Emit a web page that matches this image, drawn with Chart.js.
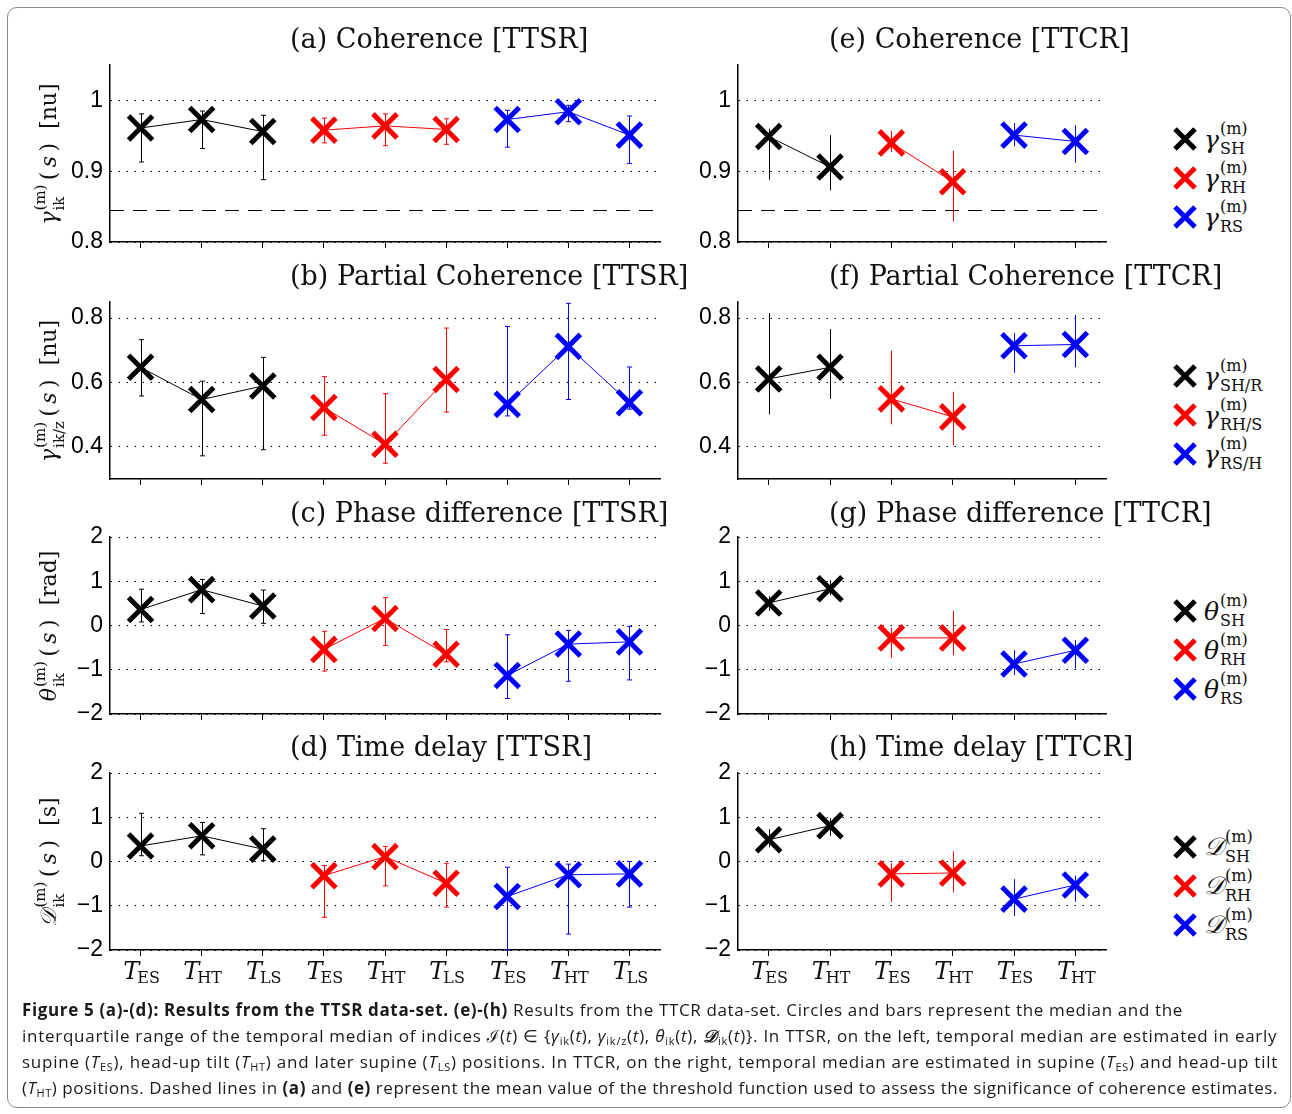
<!DOCTYPE html>
<html>
<head>
<meta charset="utf-8">
<script src="https://cdn.jsdelivr.net/npm/chart.js@4.4.0/dist/chart.umd.min.js"></script>
<style>
  body { margin: 0; background: #fff; width: 1292px; height: 1114px; position: relative; overflow: hidden; }
  #frame { position: absolute; left: 7px; top: 7px; width: 1284px; height: 1101px; border: 1.5px solid #8a8a8a; border-radius: 10px; box-sizing: border-box; }
  canvas { position: absolute; }
  .ttl { position: absolute; font: 27px "DejaVu Serif", serif; color: #111; white-space: nowrap; transform: translateY(-50%); }
  .ylab { position: absolute; font: 22px "DejaVu Serif", serif; color: #111; white-space: nowrap; transform: translate(-50%, -50%) rotate(-90deg); }
  .leg { position: absolute; left: 1171px; font: 25px "DejaVu Serif", serif; color: #111; white-space: nowrap; transform: translateY(-50%); display: flex; align-items: center; }
  .leg svg { margin-right: 5px; }
  .ss { display: inline-block; vertical-align: middle; line-height: 1; font-size: 15px; font-style: normal; margin-left: 1px; }
  .leg .ss { font-size: 16px; }
  .ss span { display: block; }
  .ss .sp { margin-bottom: 4px; }
  .sym { font-style: italic; }
  #cap { position: absolute; left: 22px; top: 997px; font: 17px "Open Sans", "Noto Sans", sans-serif; color: #1a1a1a; }
  #cap .ln { height: 26px; line-height: 26px; white-space: nowrap; }
  #cap sub { font-size: 11px; vertical-align: -3px; line-height: 0; }
</style>
</head>
<body>
<div id="frame"></div>

<script>
// categories (positions), colours and legend names
const catsTTSR = ['ES', 'HT', 'LS', 'ES', 'HT', 'LS', 'ES', 'HT', 'LS'];
const catsTTCR = ['ES', 'HT', 'ES', 'HT', 'ES', 'HT'];
const groupColors = ['#000000', '#ff0000', '#0000ff'];
const pairNames = ['SH', 'RH', 'RS'];
const partialNames = ['SH/R', 'RH/S', 'RS/H'];

// y axis ticks
const yTicksCoh = [0.8, 0.9, 1];
const yTicksPart = [0.4, 0.6, 0.8];
const yTicksRad = [-2, -1, 0, 1, 2];

// threshold (dashed lines in a and e)
const thrTTSR = 0.845;
const thrTTCR = 0.845;

// (a) coherence TTSR : median, q1, q3
const cohTTSR_med = [0.961, 0.973, 0.956, 0.958, 0.964, 0.959, 0.973, 0.984, 0.951];
const cohTTSR_q1 = [0.913, 0.932, 0.888, 0.940, 0.936, 0.938, 0.934, 0.970, 0.911];
const cohTTSR_q3 = [0.981, 0.985, 0.979, 0.975, 0.981, 0.974, 0.986, 0.993, 0.978];
// (e) coherence TTCR
const cohTTCR_med = [0.949, 0.906, 0.940, 0.885, 0.951, 0.942];
const cohTTCR_q1 = [0.888, 0.873, 0.927, 0.829, 0.935, 0.912];
const cohTTCR_q3 = [0.960, 0.951, 0.957, 0.929, 0.968, 0.965];
// (b) partial coherence TTSR
const pcohTTSR_med = [0.647, 0.547, 0.589, 0.522, 0.408, 0.609, 0.532, 0.712, 0.537];
const pcohTTSR_q1 = [0.558, 0.372, 0.391, 0.436, 0.349, 0.508, 0.496, 0.547, 0.517];
const pcohTTSR_q3 = [0.733, 0.604, 0.678, 0.618, 0.565, 0.769, 0.774, 0.846, 0.648];
// (f) partial coherence TTCR
const pcohTTCR_med = [0.611, 0.647, 0.549, 0.493, 0.714, 0.718];
const pcohTTCR_q1 = [0.501, 0.549, 0.470, 0.405, 0.630, 0.647];
const pcohTTCR_q3 = [0.815, 0.766, 0.699, 0.571, 0.754, 0.810];
// (c) phase difference TTSR
const phaseTTSR_med = [0.36, 0.81, 0.44, -0.54, 0.16, -0.65, -1.13, -0.42, -0.37];
const phaseTTSR_q1 = [0.08, 0.27, 0.05, -1.03, -0.45, -0.82, -1.65, -1.26, -1.23];
const phaseTTSR_q3 = [0.82, 1.04, 0.80, -0.13, 0.63, -0.09, -0.21, -0.11, -0.02];
// (g) phase difference TTCR
const phaseTTCR_med = [0.51, 0.83, -0.28, -0.28, -0.87, -0.56];
const phaseTTCR_q1 = [0.33, 0.68, -0.74, -0.67, -1.12, -0.97];
const phaseTTCR_q3 = [0.66, 1.02, -0.05, 0.33, -0.56, -0.33];
// (d) time delay TTSR
const delayTTSR_med = [0.35, 0.58, 0.28, -0.32, 0.11, -0.49, -0.79, -0.30, -0.28];
const delayTTSR_q1 = [0.13, 0.15, 0.02, -1.26, -0.55, -1.03, -2.00, -1.64, -1.03];
const delayTTSR_q3 = [1.09, 0.88, 0.74, -0.09, 0.34, -0.04, -0.13, -0.06, 0.00];
// (h) time delay TTCR
const delayTTCR_med = [0.49, 0.81, -0.28, -0.26, -0.85, -0.53];
const delayTTCR_q1 = [0.32, 0.58, -0.91, -0.70, -1.23, -0.91];
const delayTTCR_q3 = [0.73, 0.98, -0.04, 0.23, -0.40, -0.32];

// 오차막대 + 임계선
const errBarsPlugin = {
    id: 'errBars',
    beforeDatasetsDraw(chart, args, o) {
        const ctx = chart.ctx, ys = chart.scales.y, a = chart.chartArea;
        if (o.thr != null) {
            const ty = Math.round(ys.getPixelForValue(o.thr)) + 0.5;
            ctx.save();
            ctx.beginPath();
            ctx.setLineDash([14, 9]);
            ctx.moveTo(a.left, ty);
            ctx.lineTo(a.right, ty);
            ctx.strokeStyle = '#000';
            ctx.lineWidth = 1;
            ctx.stroke();
            ctx.restore();
        }
        chart.data.datasets.forEach((ds, d) => {
            const meta = chart.getDatasetMeta(d);
            ds.data.forEach((v, i) => {
                if (v == null) return;
                const x = Math.round(meta.data[i].x) + 0.5;
                const y1 = ys.getPixelForValue(o.lo[i]);
                const y2 = ys.getPixelForValue(o.hi[i]);
                ctx.save();
                ctx.strokeStyle = ds.borderColor;
                ctx.lineWidth = 1;
                ctx.beginPath();
                ctx.moveTo(x, y1);
                ctx.lineTo(x, y2);
                if (o.cap) {
                    ctx.moveTo(x - o.cap, y1); ctx.lineTo(x + o.cap, y1);
                    ctx.moveTo(x - o.cap, y2); ctx.lineTo(x + o.cap, y2);
                }
                ctx.stroke();
                ctx.restore();
            });
        });
    }
};

// x 라벨 (T + 아래첨자)
const xLabelPlugin = {
    id: 'tLabels',
    afterDraw(chart, args, o) {
        if (!o.show) return;
        const ctx = chart.ctx, xs = chart.scales.x, a = chart.chartArea;
        const labels = chart.data.labels;
        ctx.save();
        ctx.fillStyle = '#111';
        ctx.textBaseline = 'alphabetic';
        labels.forEach((lbl, i) => {
            const x = xs.getPixelForTick(i);
            ctx.font = 'italic 24px "DejaVu Serif"';
            const wT = ctx.measureText('T').width;
            ctx.font = '16px "DejaVu Serif"';
            const wS = ctx.measureText(lbl).width;
            const x0 = x - (wT + wS) / 2 + 2;
            ctx.font = 'italic 24px "DejaVu Serif"';
            ctx.fillText('T', x0, a.bottom + 29);
            ctx.font = '16px "DejaVu Serif"';
            ctx.fillText(lbl, x0 + wT - 2, a.bottom + 33);
        });
        ctx.restore();
    }
};

function fmt(v) {
    return v < 0 ? '\u2212' + Math.abs(v) : String(v);
}

const rowTops = [65, 302, 537, 773];
const plotH = 177;

function makePanel(col, row, cats, med, q1, q3, yTicks, yMin, yMax, thr) {
    const n = cats.length / 3;
    const cv = document.createElement('canvas');
    const left = col === 0 ? 0 : 690;
    const width = col === 0 ? 690 : 450;
    const height = 25 + plotH + 50;
    cv.width = width; cv.height = height;
    cv.style.left = left + 'px';
    cv.style.top = (rowTops[row] - 25) + 'px';
    document.body.appendChild(cv);

    const datasets = groupColors.map((c, g) => ({
        data: med.map((v, i) => Math.floor(i / n) === g ? v : null),
        borderColor: c,
        borderWidth: 1,
        pointStyle: 'crossRot',
        pointRadius: 17,
        pointBorderWidth: 5,
        pointBorderColor: c,
        pointBackgroundColor: c,
        spanGaps: false,
        tension: 0,
        clip: false
    }));

    return new Chart(cv, {
        type: 'line',
        data: { labels: cats, datasets: datasets },
        options: {
            responsive: false,
            animation: false,
            devicePixelRatio: 1,
            layout: { padding: { top: 25, right: col === 0 ? 30 : 34, left: 0, bottom: 0 } },
            plugins: {
                legend: { display: false },
                tooltip: { enabled: false },
                errBars: { lo: q1, hi: q3, cap: col === 0 ? 2.5 : 0, thr: thr },
                tLabels: { show: row === 3 }
            },
            scales: {
                x: {
                    offset: true,
                    grid: { display: true, drawOnChartArea: false, drawTicks: true, tickLength: 6, color: '#000', lineWidth: 1 },
                    border: { display: true, color: '#000', width: 1.5 },
                    ticks: { display: false },
                    afterFit: s => { s.height = 50; }
                },
                y: {
                    min: yMin, max: yMax,
                    afterBuildTicks: s => { s.ticks = yTicks.map(v => ({ value: v })); },
                    grid: { color: '#000', lineWidth: 1, drawTicks: false },
                    border: { display: true, color: '#000', width: 1.5, dash: [1.5, 6.5] },
                    ticks: { padding: 7, color: '#000', font: { family: '"Liberation Sans", Arial, sans-serif', size: 23 }, callback: v => fmt(v) },
                    afterFit: s => { s.width = col === 0 ? 110 : 48; }
                }
            }
        },
        plugins: [errBarsPlugin, xLabelPlugin]
    });
}

makePanel(0, 0, catsTTSR, cohTTSR_med, cohTTSR_q1, cohTTSR_q3, yTicksCoh, 0.8, 1.05, thrTTSR);
makePanel(1, 0, catsTTCR, cohTTCR_med, cohTTCR_q1, cohTTCR_q3, yTicksCoh, 0.8, 1.05, thrTTCR);
makePanel(0, 1, catsTTSR, pcohTTSR_med, pcohTTSR_q1, pcohTTSR_q3, yTicksPart, 0.3, 0.85, null);
makePanel(1, 1, catsTTCR, pcohTTCR_med, pcohTTCR_q1, pcohTTCR_q3, yTicksPart, 0.3, 0.85, null);
makePanel(0, 2, catsTTSR, phaseTTSR_med, phaseTTSR_q1, phaseTTSR_q3, yTicksRad, -2, 2, null);
makePanel(1, 2, catsTTCR, phaseTTCR_med, phaseTTCR_q1, phaseTTCR_q3, yTicksRad, -2, 2, null);
makePanel(0, 3, catsTTSR, delayTTSR_med, delayTTSR_q1, delayTTSR_q3, yTicksRad, -2, 2, null);
makePanel(1, 3, catsTTCR, delayTTCR_med, delayTTCR_q1, delayTTCR_q3, yTicksRad, -2, 2, null);

// 제목
const titles = [
    ['(a) Coherence [TTSR]', '(b) Partial Coherence [TTSR]', '(c) Phase difference [TTSR]', '(d) Time delay [TTSR]'],
    ['(e) Coherence [TTCR]', '(f) Partial Coherence [TTCR]', '(g) Phase difference [TTCR]', '(h) Time delay [TTCR]']
];
const titleY = [38, 275, 512, 746];
titles.forEach((col, c) => col.forEach((t, r) => {
    const d = document.createElement('div');
    d.className = 'ttl';
    d.textContent = t;
    d.style.left = (c === 0 ? 290 : 829) + 'px';
    d.style.top = titleY[r] + 'px';
    document.body.appendChild(d);
}));

// y축 제목
function stack(sup, sub) {
    return '<span class="ss"><span class="sp">' + sup + '</span><span class="sb">' + sub + '</span></span>';
}
const yLabels = [
    '<span class="sym">γ</span>' + stack('(m)', 'ik') + '&thinsp;(&thinsp;<i>s</i>&thinsp;)&nbsp;&nbsp;[nu]',
    '<span class="sym">γ</span>' + stack('(m)', 'ik/z') + '&thinsp;(&thinsp;<i>s</i>&thinsp;)&nbsp;&nbsp;[nu]',
    '<span class="sym">θ</span>' + stack('(m)', 'ik') + '&thinsp;(&thinsp;<i>s</i>&thinsp;)&nbsp;&nbsp;[rad]',
    '<span class="sym">𝒟</span>' + stack('(m)', 'ik') + '&thinsp;(&thinsp;<i>s</i>&thinsp;)&nbsp;&nbsp;[s]'
];
yLabels.forEach((h, r) => {
    const d = document.createElement('div');
    d.className = 'ylab';
    d.innerHTML = h;
    d.style.left = '50px';
    d.style.top = (rowTops[r] + plotH / 2) + 'px';
    document.body.appendChild(d);
});

// 범례
const legSyms = ['γ', 'γ', 'θ', '𝒟'];
const legNames = [pairNames, partialNames, pairNames, pairNames];
legSyms.forEach((s, r) => {
    legNames[r].forEach((nm, k) => {
        const d = document.createElement('div');
        d.className = 'leg';
        d.style.top = (rowTops[r] + 74 + 39 * k) + 'px';
        d.innerHTML = '<svg width="28" height="28"><path d="M4 4L24 24M24 4L4 24" stroke="' + groupColors[k] +
            '" stroke-width="5"/></svg><span class="sym">' + s + '</span>' + stack('(m)', nm);
        document.body.appendChild(d);
    });
});
</script>

<div id="cap">
  <div class="ln" data-w="1161"><b>Figure 5 (a)-(d): Results from the TTSR data-set. (e)-(h)</b> Results from the TTCR data-set. Circles and bars represent the median and the</div>
  <div class="ln" data-w="1256">interquartile range of the temporal median of indices <b><i>ℐ</i></b>(<i>t</i>) ∈ {<i>γ</i><sub>ik</sub>(<i>t</i>), <i>γ</i><sub>ik/z</sub>(<i>t</i>), <i>θ</i><sub>ik</sub>(<i>t</i>), <b><i>𝒟</i></b><sub>ik</sub>(<i>t</i>)}. In TTSR, on the left, temporal median are estimated in early</div>
  <div class="ln" data-w="1256">supine (<i>T</i><sub>ES</sub>), head-up tilt (<i>T</i><sub>HT</sub>) and later supine (<i>T</i><sub>LS</sub>) positions. In TTCR, on the right, temporal median are estimated in supine (<i>T</i><sub>ES</sub>) and head-up tilt</div>
  <div class="ln" data-w="1256">(<i>T</i><sub>HT</sub>) positions. Dashed lines in <b>(a)</b> and <b>(e)</b> represent the mean value of the threshold function used to assess the significance of coherence estimates.</div>
</div>
<script>
// 캡션 줄 너비 맞추기 (글자 간격 조정)
document.querySelectorAll('#cap .ln').forEach(el => {
    el.style.display = 'inline-block';
    const w = el.getBoundingClientRect().width;
    const target = +el.dataset.w;
    const chars = el.textContent.trim().length;
    el.style.letterSpacing = ((target - w) / chars) + 'px';
    el.style.display = 'block';
});
</script>
</body>
</html>
